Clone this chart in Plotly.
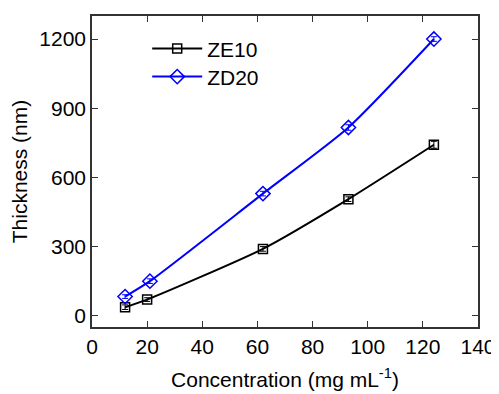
import plotly.graph_objects as go

conc_ze10 = [12, 20, 62, 93, 124]
thick_ze10 = [36, 69, 289, 505, 741]
err_ze10 = [10, 8, 10, 10, 15]

conc_zd20 = [12, 21, 62, 93, 124]
thick_zd20 = [82, 149, 529, 816, 1200]
err_zd20 = [8, 10, 10, 12, 10]

x_ticks = [0, 20, 40, 60, 80, 100, 120, 140]
y_ticks = [0, 300, 600, 900, 1200]

FONT = "Liberation Sans, Arial, sans-serif"

fig = go.Figure()
fig.add_trace(go.Scatter(
    x=conc_ze10, y=thick_ze10, name="ZE10", mode="lines+markers",
    line=dict(color="black", width=2, shape="spline", smoothing=0.6),
    marker=dict(symbol="square-open", size=9, color="black", line=dict(width=1.5)),
    error_y=dict(type="data", array=err_ze10, color="black", thickness=1, width=3),
    legend="legend",
))
fig.add_trace(go.Scatter(
    x=conc_zd20, y=thick_zd20, name="ZD20", mode="lines+markers",
    line=dict(color="#0000ff", width=2, shape="spline", smoothing=0.6),
    marker=dict(symbol="diamond-open", size=11, color="#0000ff", line=dict(width=1.5)),
    error_y=dict(type="data", array=err_zd20, color="#0000ff", thickness=1, width=3),
    legend="legend2",
))

axis_common = dict(
    showline=True, linecolor="#333", linewidth=1.5, mirror="allticks",
    ticks="inside", ticklen=6, tickwidth=1.2, tickcolor="#333",
    showgrid=False, zeroline=False, automargin=False,
    tickfont=dict(family=FONT, size=21, color="black"),
)

leg_common = dict(xanchor="left", yanchor="middle", bgcolor="rgba(0,0,0,0)",
                  font=dict(family=FONT, size=21), itemwidth=50)

# page body has an 8px default margin: figure sized/margined to compensate
fig.update_layout(
    width=491, height=386,
    margin=dict(l=84, r=21, t=8, b=67),
    paper_bgcolor="white", plot_bgcolor="white",
    font=dict(family=FONT, size=21, color="black"),
    showlegend=True,
    legend=dict(x=0.143, y=0.894, **leg_common),
    legend2=dict(x=0.143, y=0.804, **leg_common),
    xaxis=dict(range=[0, 140], tickvals=x_ticks,
               title=dict(text="Concentration (mg mL<sup>-1</sup>)", standoff=15,
                          font=dict(family=FONT, size=21)),
               **axis_common),
    yaxis=dict(range=[-50, 1300], tickvals=y_ticks,
               title=dict(text="Thickness (nm)", standoff=10,
                          font=dict(family=FONT, size=21)),
               **axis_common),
)

fig.write_html("out.html")
